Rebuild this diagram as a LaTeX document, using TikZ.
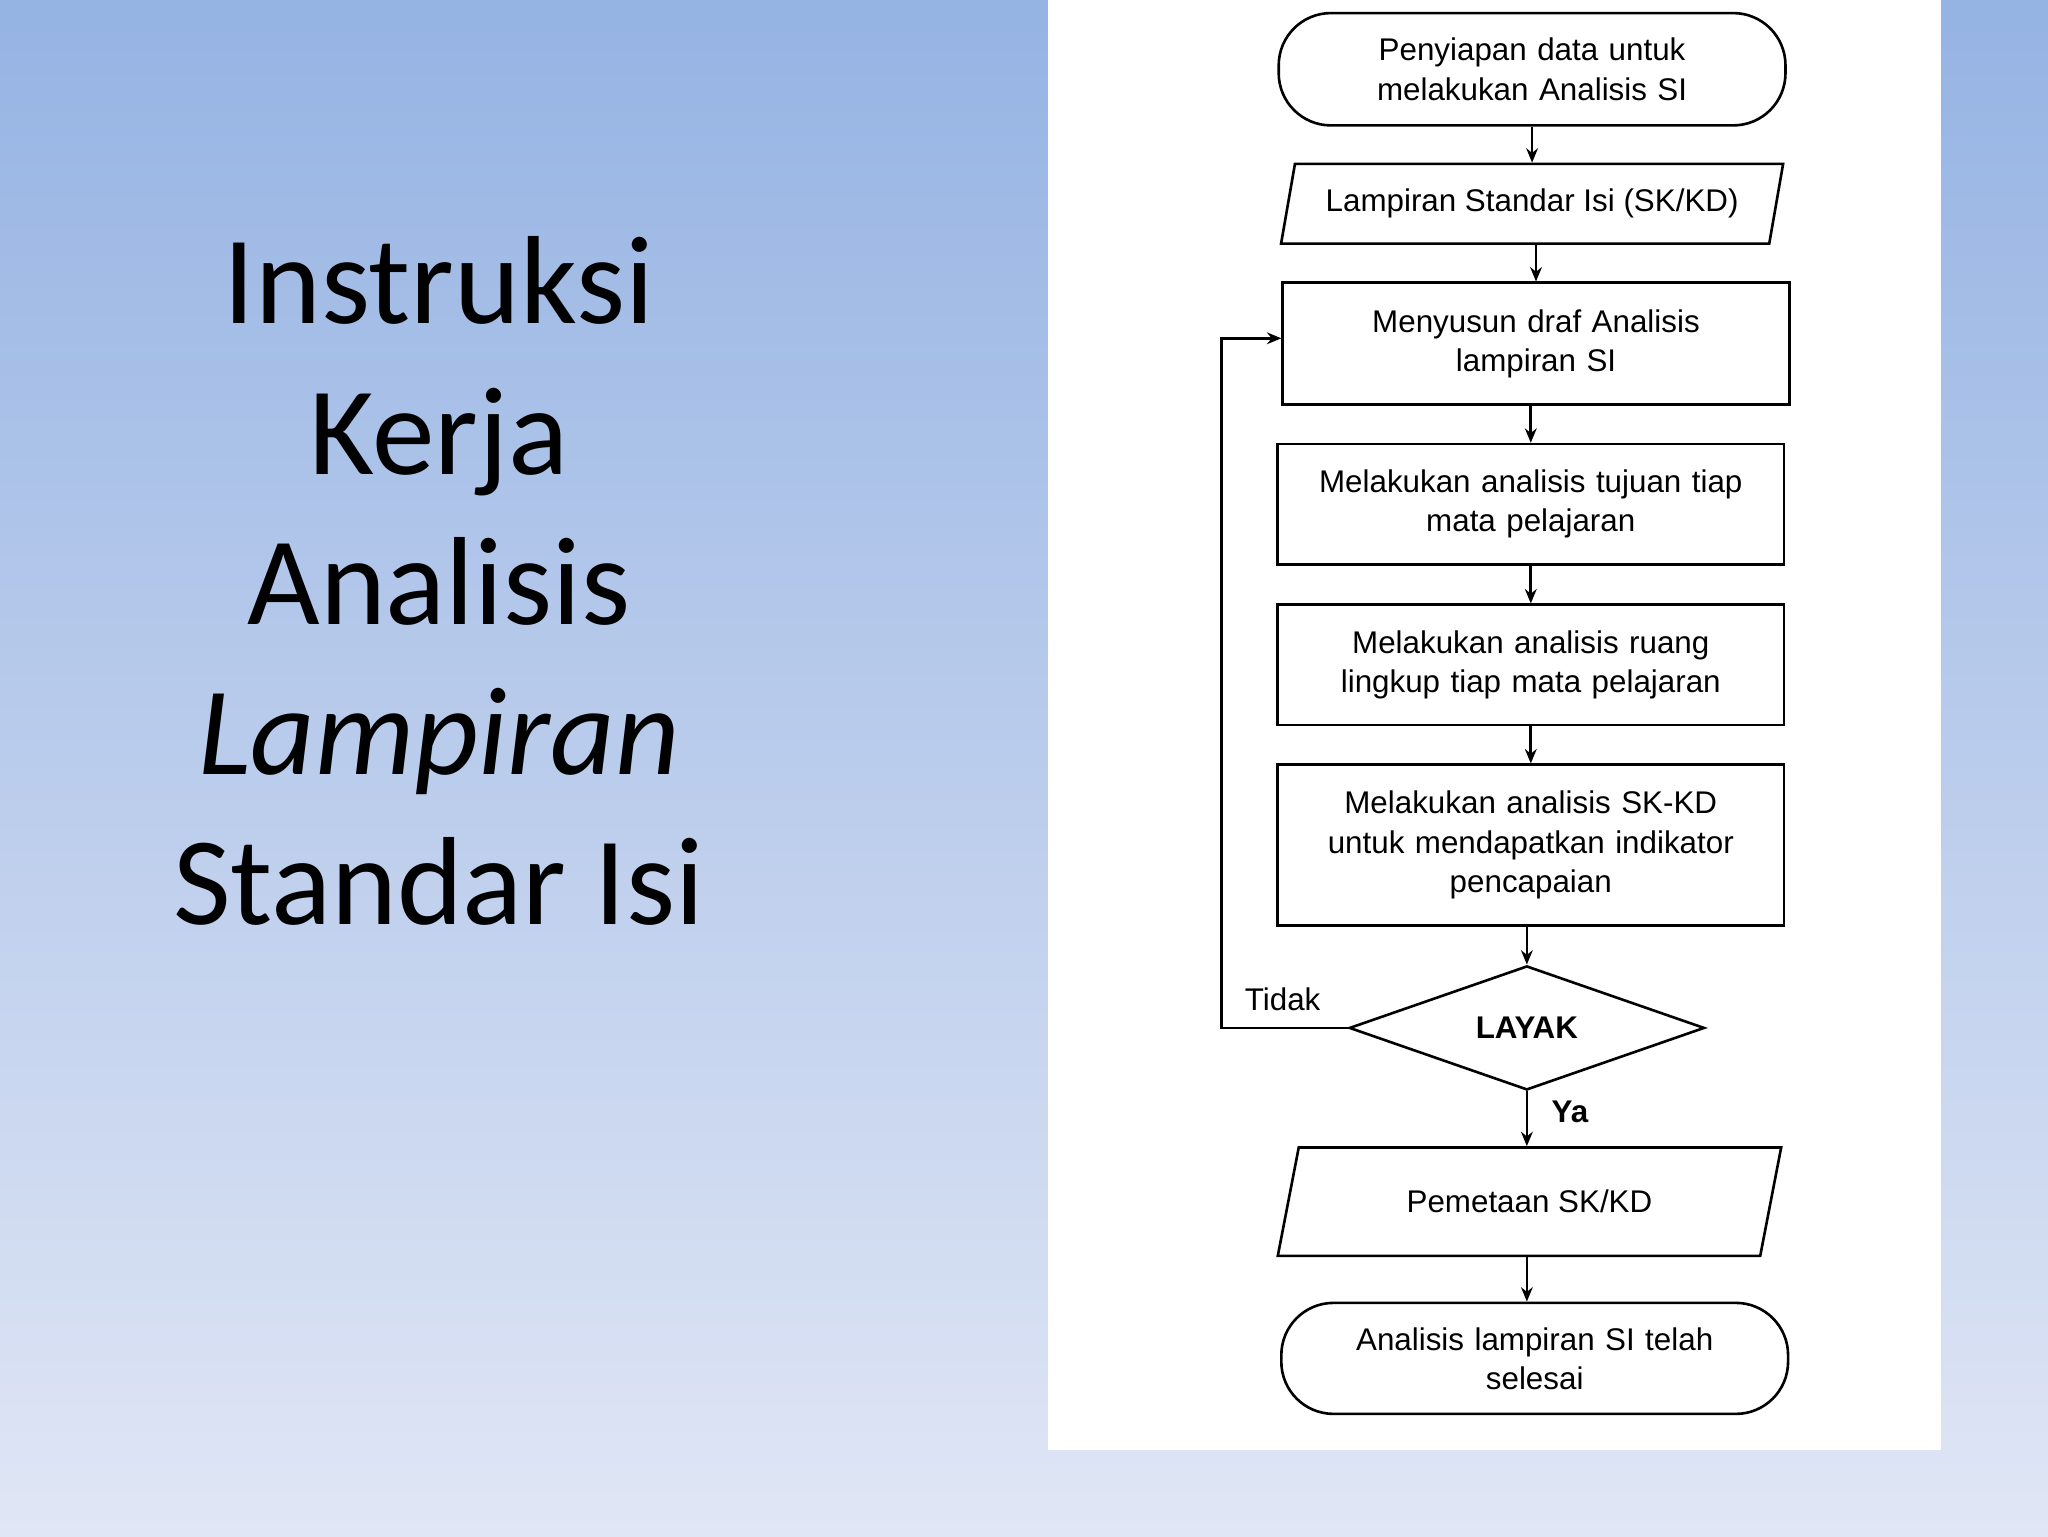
\documentclass[tikz,border=0pt]{standalone}
\usepackage{fontspec}
\setmainfont{Liberation Sans}
\newfontfamily\titlefont{Carlito}
\usetikzlibrary{shapes.geometric,arrows.meta}
\begin{document}
\begin{tikzpicture}[x=1pt,y=-1pt,
  every node/.style={font=\fontsize{24}{30}\selectfont, align=center},
  box/.style={draw, line width=2pt, minimum width=388pt, text width=375pt},
  term/.style={box, rounded corners=40pt},
  para/.style={draw, line width=2pt, trapezium, trapezium left angle=72, trapezium right angle=108, trapezium stretches=true},
  diam/.style={draw, line width=2pt, diamond, aspect=2.9, minimum width=272pt, minimum height=95pt, inner sep=0pt},
  arr/.style={line width=2pt, -{Stealth[length=11pt,width=9pt]}}]
\useasboundingbox (0,0) rectangle (1568,1176);
\shade[top color={rgb,255:red,149;green,179;blue,227}, bottom color={rgb,255:red,224;green,230;blue,245}] (0,0) rectangle (1568,1176);
\fill[white] (802,0) rectangle (1486,1110);
\node[font=\titlefont\fontsize{96}{115}\selectfont, align=center] (title) at (336,445)
 {Instruksi\\Kerja\\Analisis\\\textit{Lampiran}\\Standar Isi};
\node[term, minimum height=86pt] (s) at (1173,53) {Penyiapan data untuk\\melakukan Analisis SI};
\node[para, minimum width=386pt, minimum height=61pt] (p1) at (1173,156) {Lampiran Standar Isi (SK/KD)};
\node[box, minimum height=93pt] (b1) at (1176,263) {Menyusun draf Analisis\\lampiran SI};
\node[box, minimum height=92pt] (b2) at (1172,386) {Melakukan analisis tujuan tiap\\mata pelajaran};
\node[box, minimum height=92pt] (b3) at (1172,509) {Melakukan analisis ruang\\lingkup tiap mata pelajaran};
\node[box, minimum height=123pt] (b4) at (1172,647) {Melakukan analisis SK-KD\\untuk mendapatkan indikator\\pencapaian};
\node[diam] (d) at (1169,787) {\textbf{LAYAK}};
\node[para, trapezium left angle=70, trapezium right angle=110, minimum width=386pt, minimum height=83pt] (p2) at (1171,920) {Pemetaan SK/KD};
\node[term, minimum height=85pt] (e) at (1175,1040) {Analisis lampiran SI telah\\selesai};
\node (tidak) at (982,765) {Tidak};
\node (ya) at (1202,851) {\textbf{Ya}};
\coordinate (c1) at (935,787);
\coordinate (c2) at (935,259);
\draw[arr] (s) -- (s|-p1.north);
\draw[arr] (p1.south-|b1) -- (b1);
\draw[arr] (b1.south-|b2) -- (b2);
\draw[arr] (b2.south-|b3) -- (b3);
\draw[arr] (b3.south-|b4) -- (b4);
\draw[arr] (b4.south-|d) -- (d);
\draw[arr] (d) -- (d|-p2.north);
\draw[arr] (p2.south-|d) -- (d|-e.north);
\draw[arr] (d.west) -- (c1) -- (c2) -- (c2-|b1.west);
\end{tikzpicture}
\end{document}
